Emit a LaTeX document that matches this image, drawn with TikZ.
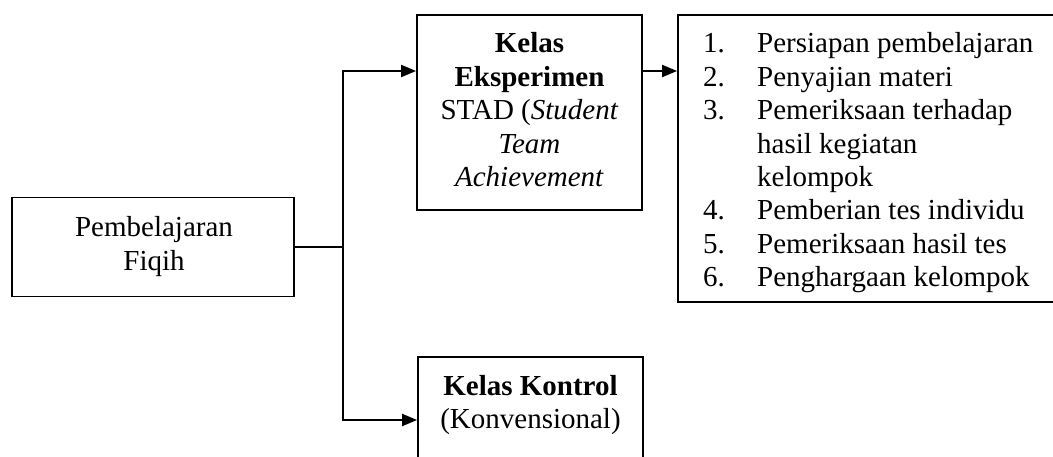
\documentclass[tikz,border=0pt]{standalone}
\usepackage{fontspec}
\setmainfont{Liberation Serif}
\usetikzlibrary{arrows.meta}
\tikzset{
  box/.style={draw, line width=1.8pt, inner sep=0pt},
  txt/.style={inner sep=0pt, font=\fontsize{29}{33.4}\selectfont},
  conn/.style={line width=2pt},
  arr/.style={conn, -{Triangle[length=15pt,width=12pt]}}
}
\begin{document}
\begin{tikzpicture}[x=1pt,y=-1pt]
\useasboundingbox (0,0) rectangle (1053,457);
\fill[white] (0,0) rectangle (1053,457);
\clip (0,0) rectangle (1053,457);
% boxes
\node[box, minimum width=282pt, minimum height=99pt] (pf) at (153,247) {};
\node[box, minimum width=225pt, minimum height=195pt] (exp) at (529.5,112.5) {};
\node[box, minimum width=392pt, minimum height=287pt] (list) at (874,158.5) {};
\node[box, minimum width=225pt, minimum height=123pt] (kon) at (530.5,418.5) {};
% texts
\node[txt, anchor=base] (pft) at (154,237) {\begin{tabular}[t]{@{}c@{}}Pembelajaran\\Fiqih\end{tabular}};
\node[txt, anchor=base] (expt) at (529.5,53) {\begin{tabular}[t]{@{}c@{}}\textbf{Kelas}\\\textbf{Eksperimen}\\STAD (\textit{Student}\\\textit{Team}\\\textit{Achievement}\end{tabular}};
\node[txt, anchor=base] (kont) at (530.5,395) {\begin{tabular}[t]{@{}c@{}}\textbf{Kelas Kontrol}\\(Konvensional)\end{tabular}};
\node[txt, anchor=base west] (listt) at (703,53) {\begin{tabular}[t]{@{}l@{}}
\makebox[54pt][l]{1.}Persiapan pembelajaran\\
\makebox[54pt][l]{2.}Penyajian materi\\
\makebox[54pt][l]{3.}Pemeriksaan terhadap\\
\hspace*{54pt}hasil kegiatan\\
\hspace*{54pt}kelompok\\
\makebox[54pt][l]{4.}Pemberian tes individu\\
\makebox[54pt][l]{5.}Pemeriksaan hasil tes\\
\makebox[54pt][l]{6.}Penghargaan kelompok
\end{tabular}};
% connectors
\coordinate (jt) at (343,71);
\coordinate (jb) at (343,420);
\draw[conn] (pf.east) -- (pf.east -| jt);
\draw[arr] (pf.east -| jt) -- (jt) -- (jt -| exp.west);
\draw[arr] (pf.east -| jt) -- (jb) -- (jb -| kon.west);
\draw[arr] (jt -| exp.east) -- (jt -| list.west);
\end{tikzpicture}
\end{document}
